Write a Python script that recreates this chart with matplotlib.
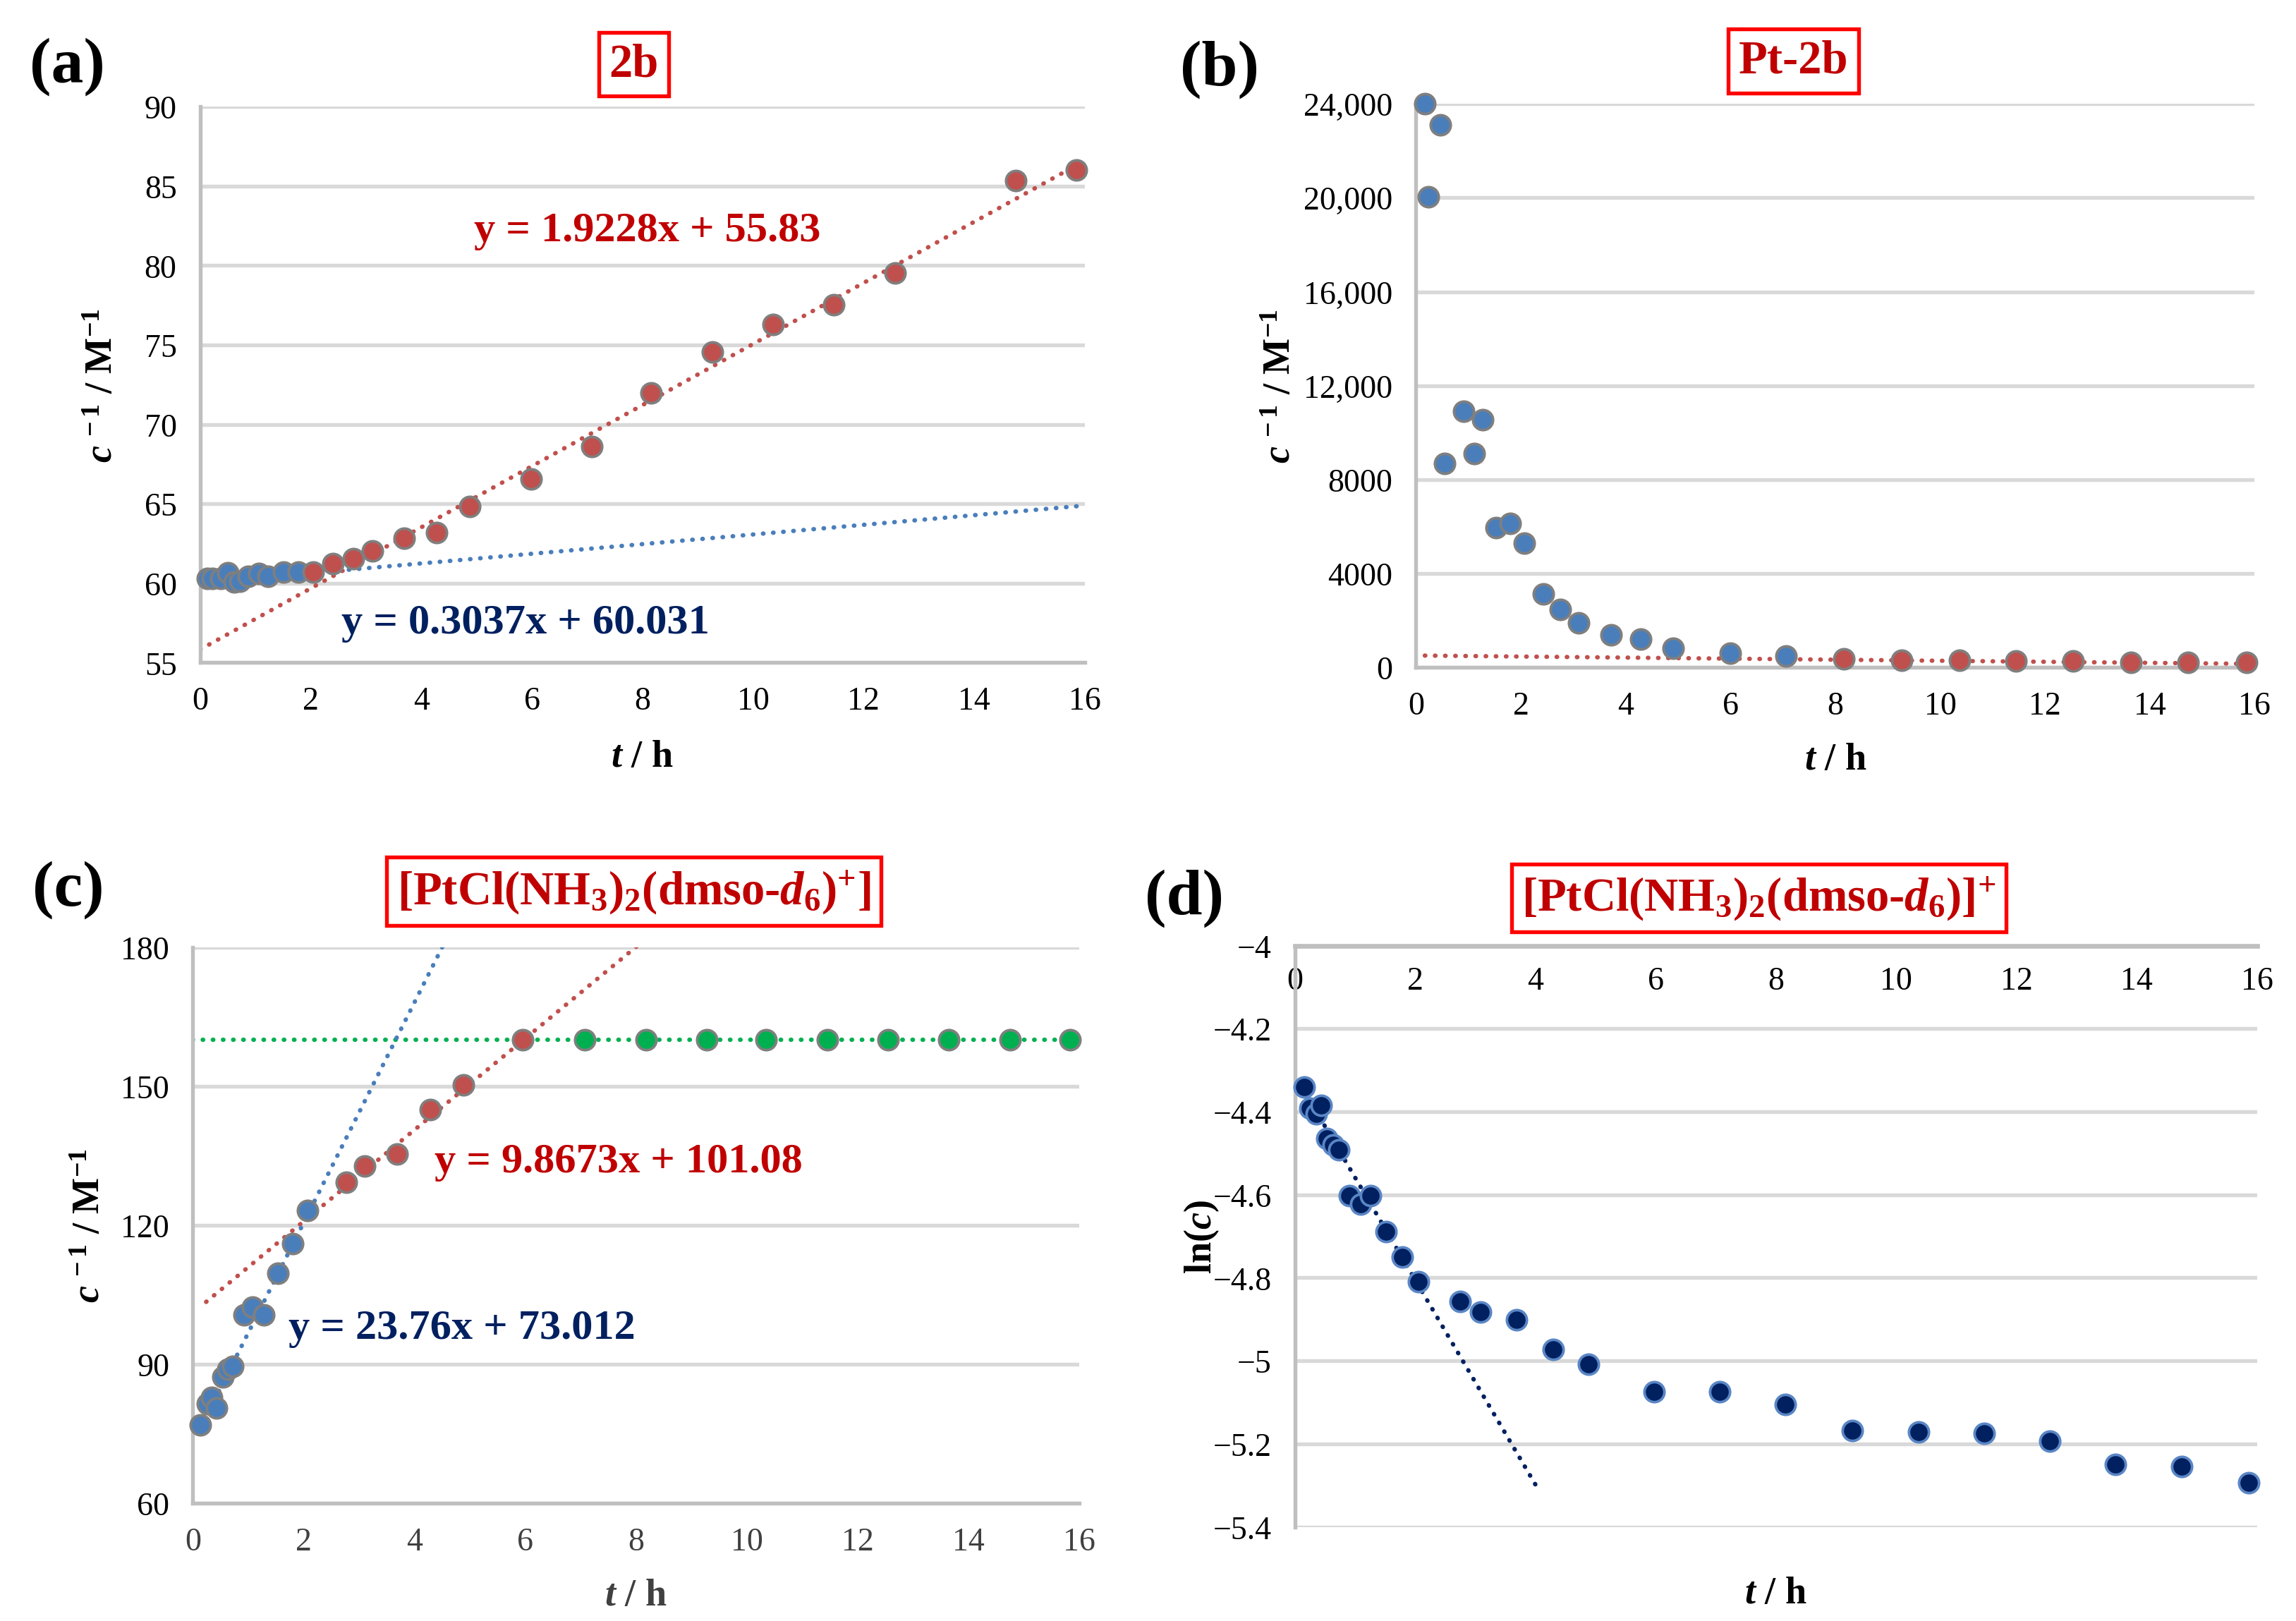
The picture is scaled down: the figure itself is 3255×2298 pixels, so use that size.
import matplotlib
matplotlib.use("Agg")
import matplotlib.pyplot as plt
import numpy as np

plt.rcParams['font.family'] = ['Liberation Serif', 'DejaVu Serif']
plt.rcParams['mathtext.fontset'] = 'custom'
plt.rcParams['mathtext.rm'] = 'Liberation Serif:bold'
plt.rcParams['mathtext.it'] = 'Liberation Serif:italic:bold'
plt.rcParams['mathtext.bf'] = 'Liberation Serif:bold'

# ---- data ----
# (a) 2b
a_t_blue = [0.13, 0.22, 0.37, 0.50, 0.61, 0.72, 0.87, 1.06, 1.23, 1.51, 1.77]
a_y_blue = [60.29, 60.29, 60.29, 60.66, 60.07, 60.14, 60.44, 60.59, 60.44, 60.69, 60.69]
a_t_red = [2.05, 2.40, 2.77, 3.11, 3.69, 4.28, 4.88, 5.99, 7.09, 8.16, 9.27, 10.37,
           11.46, 12.57, 14.75, 15.85]
a_y_red = [60.72, 61.25, 61.56, 62.03, 62.81, 63.19, 64.81, 66.56, 68.59, 71.97,
           74.56, 76.28, 77.53, 79.53, 85.34, 86.03]
a_fit_red = (1.9228, 55.83)
a_fit_blue = (0.3037, 60.031)

# (b) Pt-2b
b_t_blue = [0.17, 0.24, 0.46, 0.55, 0.91, 1.11, 1.28, 1.53, 1.80, 2.07, 2.43, 2.76,
            3.10, 3.72, 4.29, 4.90, 5.99, 7.06]
b_y_blue = [24000, 20030, 23090, 8700, 10920, 9100, 10550, 5950, 6120, 5280, 3145,
            2470, 1900, 1390, 1220, 820, 610, 485]
b_t_red = [8.16, 9.26, 10.37, 11.45, 12.54, 13.64, 14.73, 15.85]
b_y_red = [360, 320, 320, 275, 275, 230, 230, 210]
b_fit_red = (-22.3, 510)

# (c) [PtCl(NH3)2(dmso-d6)]+ , 1/c
c_t_blue = [0.14, 0.26, 0.34, 0.43, 0.54, 0.63, 0.72, 0.92, 1.08, 1.28, 1.53, 1.80, 2.07]
c_y_blue = [76.9, 81.4, 82.8, 80.5, 87.3, 89.0, 89.5, 100.6, 102.3, 100.6, 109.6,
            116.0, 123.2]
c_t_red = [2.77, 3.10, 3.69, 4.29, 4.89, 5.96]
c_y_red = [129.3, 132.8, 135.3, 144.9, 150.3, 160.0]
c_t_green = [7.07, 8.18, 9.28, 10.35, 11.45, 12.55, 13.65, 14.75, 15.84]
c_y_green = [160, 160, 160, 160, 160, 160, 160, 160, 160]
c_fit_red = (9.8673, 101.08)
c_fit_blue = (23.76, 73.012)
c_level_green = 160

# (d) ln(c)
d_t = [0.15, 0.25, 0.35, 0.44, 0.53, 0.63, 0.73, 0.90, 1.09, 1.26, 1.52, 1.79, 2.06,
       2.75, 3.09, 3.69, 4.29, 4.88, 5.97, 7.07, 8.16, 9.27, 10.37, 11.46, 12.55,
       13.65, 14.75, 15.86]
d_y = [-4.340, -4.392, -4.405, -4.384, -4.465, -4.480, -4.492, -4.603, -4.623,
       -4.603, -4.689, -4.750, -4.810, -4.857, -4.883, -4.902, -4.973, -5.008,
       -5.074, -5.074, -5.105, -5.168, -5.172, -5.175, -5.194, -5.249, -5.254, -5.294]
d_fit = (-0.2465, -4.312)

x_ticks = [0, 2, 4, 6, 8, 10, 12, 14, 16]
b_yticks = [0, 4000, 8000, 12000, 16000, 20000, 24000]
b_yticklabels = ['0', '4000', '8000', '12,000', '16,000', '20,000', '24,000']
d_yticks = [-5.4, -5.2, -5.0, -4.8, -4.6, -4.4, -4.2, -4.0]
d_yticklabels = ['\u22125.4', '\u22125.2', '\u22125', '\u22124.8', '\u22124.6',
                 '\u22124.4', '\u22124.2', '\u22124']

# ---- styles ----
BLUE = '#4A7EBB'
RED = '#C0504D'
GREEN = '#00B050'
NAVY = '#002060'
EDGE = '#7F7F7F'
EQ_RED = '#C00000'
GRID = '#D9D9D9'
SPINE = '#BFBFBF'
DOTS = (0, (0.1, 2.2))

fig = plt.figure(figsize=(10.85, 7.663), dpi=300)


def base_axes(rect, xlim, ylim, yticks):
    ax = fig.add_axes(rect)
    ax.set_xlim(*xlim)
    ax.set_ylim(*ylim)
    ax.set_xticks(x_ticks)
    ax.set_yticks(yticks)
    for s in ['top', 'right']:
        ax.spines[s].set_visible(False)
    for s in ['left', 'bottom']:
        ax.spines[s].set_color(SPINE)
        ax.spines[s].set_linewidth(1.3)
    ax.yaxis.grid(True, color=GRID, lw=1.3)
    ax.set_axisbelow(True)
    ax.tick_params(length=0, labelsize=11, pad=8)
    return ax


def dotted(ax, fit, x0, x1, color):
    xs = np.array([x0, x1])
    ax.plot(xs, fit[0] * xs + fit[1], color=color, lw=1.5, ls=DOTS,
            dash_capstyle='round', zorder=2)


def points(ax, x, y, color, edge=EDGE):
    ax.plot(x, y, 'o', ms=6.8, mfc=color, mec=edge, mew=0.9, ls='none',
            zorder=3, clip_on=False)


def title_box(x, y, text):
    fig.text(x, y, text, ha='center', va='center', fontsize=16, fontweight='bold',
             color=EQ_RED,
             bbox=dict(boxstyle='square,pad=0.22', fc='white', ec='#FF0000', lw=1.3))


def labels(ax, ylabel, ylx, xly):
    ax.set_ylabel(ylabel, fontsize=13, fontweight='bold')
    ax.yaxis.set_label_coords(ylx, 0.5)
    ax.set_xlabel(r'$\mathit{t}$ / h', fontsize=13, fontweight='bold')
    ax.xaxis.set_label_coords(0.5, xly)


ylab = r'$\mathit{c}^{\,-1}$ / M$^{-1}$'

# ---- (a) ----
ax = base_axes([0.0872, 0.591, 0.3852, 0.3428], (0, 16), (55, 90), [55, 60, 65, 70, 75, 80, 85, 90])
dotted(ax, a_fit_red, 0, 16, RED)
dotted(ax, a_fit_blue, 0.13, 16, BLUE)
points(ax, a_t_blue, a_y_blue, BLUE)
points(ax, a_t_red, a_y_red, RED)
ax.text(4.95, 82.2, 'y = 1.9228x + 55.83', color=EQ_RED, fontsize=14.5,
        fontweight='bold', va='center')
ax.text(2.56, 57.5, 'y = 0.3037x + 60.031', color=NAVY, fontsize=14.5,
        fontweight='bold', va='center')
labels(ax, ylab, -0.09, -0.138)

# ---- (b) ----
ax = base_axes([0.6167, 0.588, 0.3653, 0.3476], (0, 16), (0, 24000), b_yticks)
ax.set_yticklabels(b_yticklabels)
dotted(ax, b_fit_red, 0.17, 16, RED)
points(ax, b_t_blue, b_y_blue, BLUE)
points(ax, b_t_red, b_y_red, RED)
labels(ax, ylab, -0.14, -0.133)

# ---- (c) ----
ax = base_axes([0.084, 0.0726, 0.386, 0.343], (0, 16), (60, 180), [60, 90, 120, 150, 180])
ax.tick_params(axis='x', labelcolor='#404040')
dotted(ax, (0, c_level_green), 0, 16, GREEN)
dotted(ax, c_fit_red, 0.24, 16, RED)
dotted(ax, c_fit_blue, 0.14, 16, BLUE)
points(ax, c_t_blue, c_y_blue, BLUE)
points(ax, c_t_red, c_y_red, RED)
points(ax, c_t_green, c_y_green, GREEN)
ax.text(4.36, 133.7, 'y = 9.8673x + 101.08', color=EQ_RED, fontsize=14.5,
        fontweight='bold', va='center')
ax.text(1.73, 97.8, 'y = 23.76x + 73.012', color=NAVY, fontsize=14.5,
        fontweight='bold', va='center')
labels(ax, ylab, -0.096, -0.135)
ax.xaxis.label.set_color('#404040')

# ---- (d) ----
ax = base_axes([0.564, 0.058, 0.419, 0.3585], (0, 16), (-5.4, -4.0), d_yticks)
ax.set_yticklabels(d_yticklabels)
ax.spines['bottom'].set_visible(False)
ax.spines['top'].set_visible(True)
ax.spines['top'].set_color(SPINE)
ax.spines['top'].set_linewidth(1.6)
ax.xaxis.tick_top()
ax.tick_params(axis='x', pad=-7)
for lbl in ax.get_xticklabels():
    lbl.set_va('top')
dotted(ax, d_fit, 0.15, 4.04, NAVY)
points(ax, d_t, d_y, NAVY, edge='#5A86C5')
labels(ax, r'ln($\mathit{c}$)', -0.077, -0.084)

# ---- titles and panel letters ----
title_box(0.276, 0.960, '2b')
title_box(0.781, 0.962, 'Pt-2b')
title_box(0.276, 0.450, r'[PtCl(NH$_3$)$_2$(dmso-$\mathit{d}_{\mathit{6}}$)$^{+}$]')
title_box(0.766, 0.446, r'[PtCl(NH$_3$)$_2$(dmso-$\mathit{d}_{\mathit{6}}$)]$^{+}$')

for x, y, s in [(0.0128, 0.959, '(a)'), (0.514, 0.957, '(b)'),
                (0.014, 0.451, '(c)'), (0.4987, 0.446, '(d)')]:
    fig.text(x, y, s, fontsize=22, fontweight='bold', ha='left', va='center')

fig.savefig('out.png', dpi=300)
